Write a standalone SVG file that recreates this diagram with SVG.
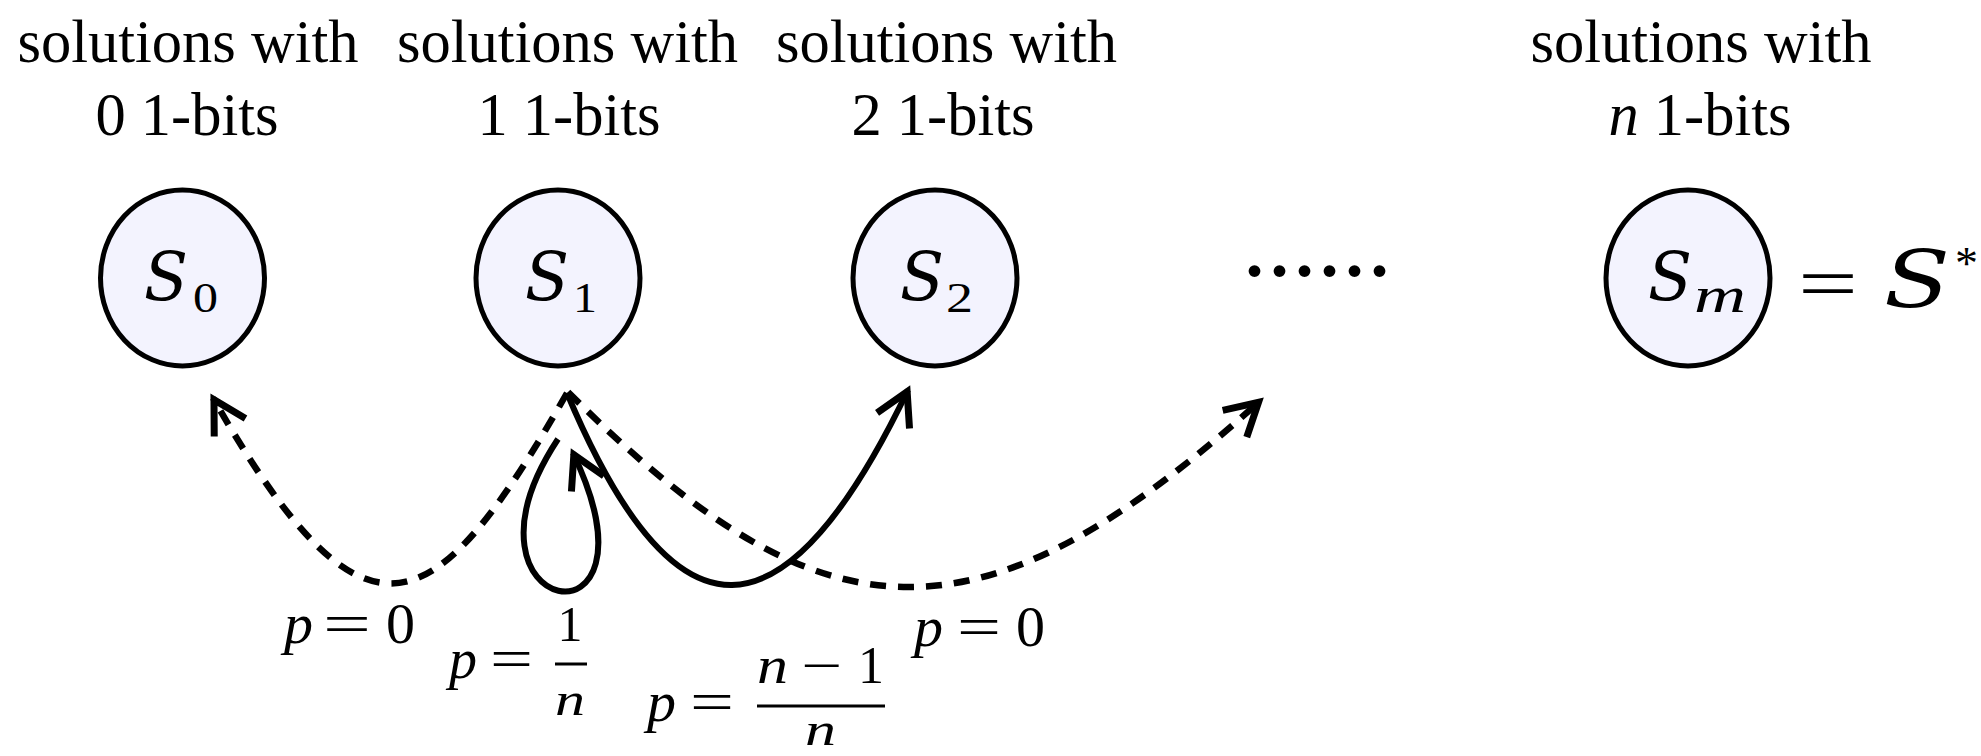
<svg xmlns="http://www.w3.org/2000/svg" width="1981" height="756" viewBox="0 0 1981 756">
<style>
.title{font-family:"Liberation Serif",serif;font-size:60.5px;text-anchor:middle;fill:#000}
.node{fill:#f3f3fe;stroke:#000;stroke-width:5}
.m{font-family:"Liberation Serif",serif;fill:#000}
.it{font-style:italic}
.cal{font-family:"DejaVu Serif",serif;font-style:italic;fill:#000}
.sub{font-family:"Liberation Serif",serif;font-size:42px;fill:#000}
.edge{fill:none;stroke:#000;stroke-width:6}
.dash{stroke-width:6.5;stroke-dasharray:16 12}
</style>
<defs>
<marker id="arr" markerUnits="userSpaceOnUse" viewBox="-40 -25 50 50" markerWidth="50" markerHeight="50" refX="0" refY="0" orient="auto" overflow="visible">
<path d="M-34,-18 L-2,0 L-34,18" fill="none" stroke="#000" stroke-width="7"/>
</marker>
</defs>
<rect width="1981" height="756" fill="#fff"/>

<g id="node-S0">
<text class="title" x="188" y="62">solutions with</text>
<text class="title" x="187" y="135">0 1-bits</text>
<ellipse class="node" cx="182.5" cy="278" rx="82" ry="88"/>
<text class="cal" font-size="68" x="144" y="300" textLength="44" lengthAdjust="spacingAndGlyphs">S</text>
<text class="sub" x="193" y="312" textLength="25" lengthAdjust="spacingAndGlyphs">0</text>
</g>

<g id="node-S1">
<text class="title" x="567.5" y="62">solutions with</text>
<text class="title" x="569" y="135">1 1-bits</text>
<ellipse class="node" cx="558" cy="278" rx="82" ry="88"/>
<text class="cal" font-size="68" x="525" y="300" textLength="44" lengthAdjust="spacingAndGlyphs">S</text>
<text class="sub" x="573" y="312" textLength="24" lengthAdjust="spacingAndGlyphs">1</text>
</g>

<g id="node-S2">
<text class="title" x="946.5" y="62">solutions with</text>
<text class="title" x="943" y="135">2 1-bits</text>
<ellipse class="node" cx="935" cy="278" rx="82" ry="88"/>
<text class="cal" font-size="68" x="900" y="300" textLength="44" lengthAdjust="spacingAndGlyphs">S</text>
<text class="sub" x="946" y="312" textLength="27" lengthAdjust="spacingAndGlyphs">2</text>
</g>

<g id="dots">
<text class="m" font-size="100" x="1242" y="276">......</text>
</g>

<g id="node-Sm">
<text class="title" x="1701" y="62">solutions with</text>
<text class="title" x="1700" y="135"><tspan font-style="italic">n</tspan> 1-bits</text>
<ellipse class="node" cx="1688" cy="278" rx="82" ry="88"/>
<text class="cal" font-size="68" x="1648" y="300" textLength="44" lengthAdjust="spacingAndGlyphs">S</text>
<text class="m it" font-size="50" x="1694" y="312" textLength="52" lengthAdjust="spacingAndGlyphs">m</text>
<text class="m" font-size="75" x="1798" y="308" textLength="60" lengthAdjust="spacingAndGlyphs">=</text>
<text class="cal" font-size="78" x="1884" y="307" textLength="66" lengthAdjust="spacingAndGlyphs">S</text>
<text class="m" font-size="46" x="1955" y="279">*</text>
</g>

<g id="connectors">
<path class="edge dash" d="M567,393 C435,625 366,666 213,398" marker-end="url(#arr)"/>
<path class="edge dash" d="M568,392 C821.5,645.5 977,655.5 1260,401" marker-end="url(#arr)"/>
<path class="edge" d="M558,439 C440,618 672,660 573,453" marker-end="url(#arr)"/>
<path class="edge" d="M567,393 C675.7,651.9 784.6,647.1 908,390" marker-end="url(#arr)"/>
</g>

<g id="edge-labels">
<g id="label-S1-S0">
<text class="m it" font-size="58" x="284" y="643">p</text>
<text class="m" font-size="58" x="323" y="643" textLength="48" lengthAdjust="spacingAndGlyphs">=</text>
<text class="m" font-size="58" x="386" y="643">0</text>
</g>
<g id="label-S1-S1">
<text class="m it" font-size="56" x="449" y="678">p</text>
<text class="m" font-size="56" x="490" y="678" textLength="43" lengthAdjust="spacingAndGlyphs">=</text>
<text class="m" font-size="50" x="570" y="641" text-anchor="middle">1</text>
<line x1="555" y1="664" x2="587" y2="664" stroke="#000" stroke-width="3"/>
<text class="m it" font-size="46" x="555" y="715" textLength="30" lengthAdjust="spacingAndGlyphs">n</text>
</g>
<g id="label-S1-S2">
<text class="m it" font-size="58" x="647" y="721">p</text>
<text class="m" font-size="58" x="690" y="721" textLength="44" lengthAdjust="spacingAndGlyphs">=</text>
<text class="m it" font-size="52" x="757" y="683" textLength="31" lengthAdjust="spacingAndGlyphs">n</text>
<text class="m" font-size="52" x="801" y="683" textLength="41" lengthAdjust="spacingAndGlyphs">−</text>
<text class="m" font-size="52" x="858" y="683">1</text>
<line x1="757" y1="706" x2="885" y2="706" stroke="#000" stroke-width="3"/>
<text class="m it" font-size="46" x="805" y="745" textLength="31" lengthAdjust="spacingAndGlyphs">n</text>
</g>
<g id="label-S1-dots">
<text class="m it" font-size="58" x="914" y="646">p</text>
<text class="m" font-size="58" x="957" y="646" textLength="44" lengthAdjust="spacingAndGlyphs">=</text>
<text class="m" font-size="58" x="1016" y="646">0</text>
</g>
</g>
</svg>
